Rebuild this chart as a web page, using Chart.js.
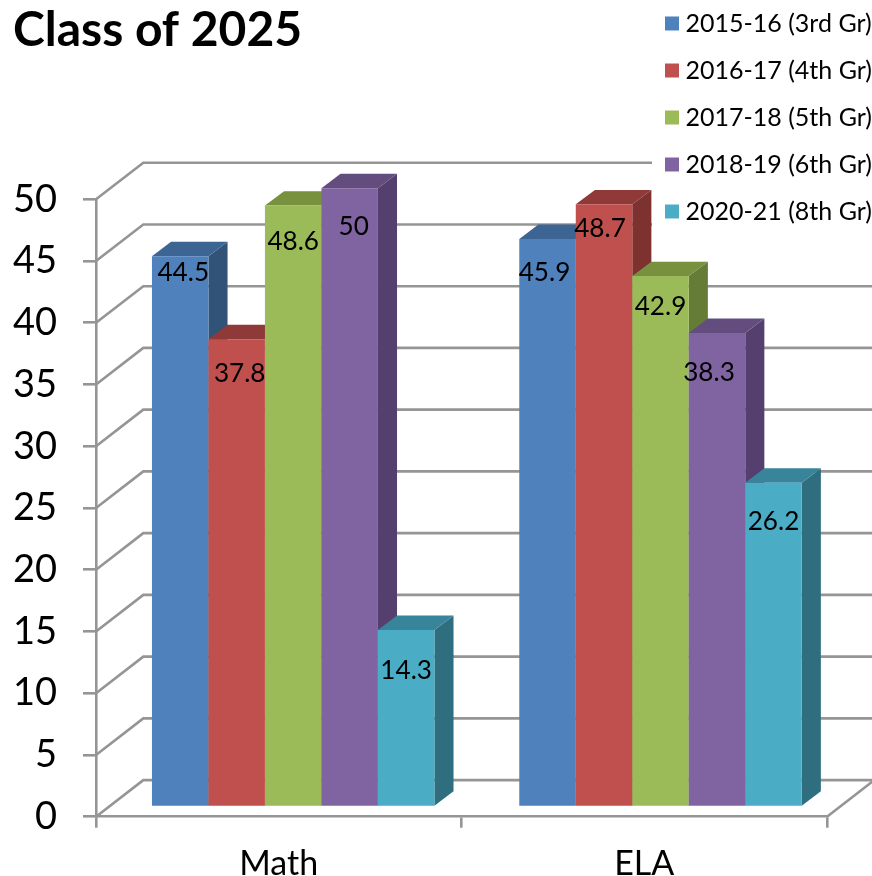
<!DOCTYPE html>
<html>
<head>
<meta charset="utf-8">
<style>html,body{margin:0;padding:0;background:#fff}canvas{display:block}</style>
<script src="https://cdn.jsdelivr.net/npm/chart.js@4"></script>
</head>
<body>
<canvas id="c" width="872" height="876"></canvas>
<script>
const categories = ['Math', 'ELA'];
const seriesNames = ['2015-16 (3rd Gr)', '2016-17 (4th Gr)', '2017-18 (5th Gr)', '2018-19 (6th Gr)', '2020-21 (8th Gr)'];
const s201516 = [44.5, 45.9];
const s201617 = [37.8, 48.7];
const s201718 = [48.6, 42.9];
const s201819 = [50, 38.3];
const s202021 = [14.3, 26.2];
const yMin = 0, yMax = 50, yStep = 5;

const front = ['#4F81BD', '#C0504D', '#9BBB59', '#8064A2', '#4BACC6'];
const topFace = ['#3D6594', '#8F3A38', '#77913F', '#634D7E', '#38849B'];
const sideFace = ['#325378', '#7D3230', '#657C37', '#553F6E', '#2F6E7F'];
const GRID = '#959595';
const GRID_W = 2.6;
const FONT = 'Lato';

const allSeries = [s201516, s201617, s201718, s201819, s202021];
const labelNudge = [[[3, 16], [-3, 34]], [[3, 34], [-4, 24]], [[0, 36], [0, 30]], [[4, 38], [-8, 39]], [[0, 40], [0, 39]]];

const wall = {dx: 47.3, dy: 36.6};
const depth = {dx: 19, dy: 14.4};
const barShift = {sx: 1.005, sy: 1.0022, dx: 13.05, dy: -11.5};
const legendBox = {x: 652, y: 0, w: 220, h: 233};

function poly(ctx, pts, fill) {
  ctx.beginPath();
  pts.forEach((p, i) => i ? ctx.lineTo(p[0], p[1]) : ctx.moveTo(p[0], p[1]));
  ctx.closePath();
  ctx.fillStyle = fill;
  ctx.fill();
}

const box3d = {
  id: 'box3d',
  afterLayout(chart) {
    const lg = chart.legend;
    lg.left = 649; lg.right = 872; lg.top = -11; lg.bottom = 876;
    chart.titleBlock.left = 13;
  },
  beforeDatasetsDraw(chart) {
    const {ctx, scales: {x, y}} = chart;
    const y0 = y.getPixelForValue(yMin);
    ctx.save();
    ctx.beginPath();
    ctx.rect(0, 0, chart.width, chart.height);
    ctx.rect(legendBox.x, legendBox.y, legendBox.w, legendBox.h);
    ctx.clip('evenodd');
    ctx.strokeStyle = GRID;
    ctx.lineWidth = GRID_W;
    y.ticks.forEach(t => {
      const py = y.getPixelForValue(t.value);
      ctx.beginPath();
      ctx.moveTo(x.left, py);
      ctx.lineTo(x.left + wall.dx, py - wall.dy);
      ctx.lineTo(x.right + wall.dx, py - wall.dy);
      ctx.stroke();
    });
    ctx.beginPath();
    ctx.moveTo(x.right, y0);
    ctx.lineTo(x.right + wall.dx, y0 - wall.dy);
    ctx.stroke();
    ctx.restore();

    ctx.save();
    ctx.transform(barShift.sx, 0, 0, barShift.sy, barShift.dx, barShift.dy);
    chart.data.datasets.forEach((ds, i) => {
      const meta = chart.getDatasetMeta(i);
      meta.data.forEach(b => {
        const p = b.getProps(['x', 'y', 'base', 'width']);
        const l = p.x - p.width / 2, r = p.x + p.width / 2;
        poly(ctx, [[r, p.y], [r + depth.dx, p.y - depth.dy], [r + depth.dx, p.base - depth.dy], [r, p.base]], sideFace[i]);
        poly(ctx, [[l, p.y], [l + depth.dx, p.y - depth.dy], [r + depth.dx, p.y - depth.dy], [r, p.y]], topFace[i]);
      });
      meta.controller.draw();
    });
    ctx.fillStyle = '#000';
    ctx.font = '26px ' + FONT;
    ctx.textAlign = 'center';
    ctx.textBaseline = 'middle';
    chart.data.datasets.forEach((ds, i) => {
      chart.getDatasetMeta(i).data.forEach((b, j) => {
        const p = b.getProps(['x', 'y']);
        const n = labelNudge[i][j];
        ctx.fillText(String(ds.data[j]), p.x + n[0], p.y + n[1]);
      });
    });
    ctx.restore();
    return false;
  }
};

new Chart(document.getElementById('c'), {
  type: 'bar',
  data: {
    labels: categories,
    datasets: allSeries.map((d, i) => ({
      label: seriesNames[i],
      data: d,
      backgroundColor: front[i],
      barPercentage: 1,
      categoryPercentage: 0.769
    }))
  },
  plugins: [box3d],
  options: {
    responsive: false,
    animation: false,
    layout: {padding: {left: 0, right: 45, top: 0, bottom: 0}},
    plugins: {
      tooltip: {enabled: false},
      title: {
        display: true,
        text: 'Class of 2025',
        align: 'start',
        color: '#000',
        font: {family: FONT, size: 48, weight: 'bold'},
        padding: {top: 1.7, bottom: 140}
      },
      legend: {
        position: 'chartArea',
        align: 'start',
        labels: {
          color: '#000',
          font: {family: FONT, size: 25},
          boxWidth: 2,
          boxHeight: 2,
          padding: 22,
          generateLabels(chart) {
            return Chart.defaults.plugins.legend.labels.generateLabels(chart).map(l => Object.assign(l, {strokeStyle: l.fillStyle, lineWidth: 12}));
          }
        }
      }
    },
    scales: {
      x: {
        afterFit(s) { s.height = 59.3; },
        grid: {drawOnChartArea: false, color: GRID, lineWidth: GRID_W, tickLength: 11},
        border: {color: GRID, width: GRID_W},
        ticks: {color: '#000', font: {family: FONT, size: 34}, padding: 16, maxRotation: 0}
      },
      y: {
        min: yMin,
        max: yMax,
        afterFit(s) { s.width = 96; },
        grid: {drawOnChartArea: false, color: GRID, lineWidth: GRID_W, tickLength: 13},
        border: {color: GRID, width: GRID_W},
        ticks: {stepSize: yStep, color: '#000', font: {family: FONT, size: 38}, padding: 26}
      }
    }
  }
});
</script>
</body>
</html>
